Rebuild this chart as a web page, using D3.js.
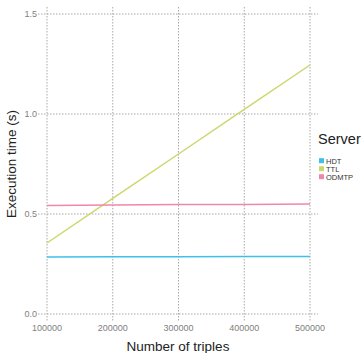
<!DOCTYPE html>
<html><head><meta charset="utf-8">
<script src="https://cdn.jsdelivr.net/npm/d3@7"></script>
<style>body{margin:0;background:#fff}svg{display:block}</style>
</head><body>
<script>
const triples = [100000, 200000, 300000, 400000, 500000];
const hdt   = [0.285, 0.286, 0.286, 0.287, 0.288];
const ttl   = [0.355, 0.578, 0.800, 1.023, 1.245];
const odmtp = [0.543, 0.545, 0.547, 0.548, 0.550];
const seriesNames = ["HDT", "TTL", "ODMTP"];
const seriesColors = ["#3fc0e8", "#cdd76a", "#f086ae"];
const xTicks = [100000, 200000, 300000, 400000, 500000];
const yTicks = [0.0, 0.5, 1.0, 1.5];

const W = 361, H = 353;
const svg = d3.select("body").append("svg").attr("width", W).attr("height", H);
const x = d3.scaleLinear().domain([100000, 500000]).range([47, 310]);
const y = d3.scaleLinear().domain([0, 1.5]).range([314, 14]);
const font = "'Liberation Sans', Helvetica, Arial, sans-serif";
const gridColor = "#a8a8a8";

// grid
const g = svg.append("g");
g.selectAll("line.h").data(yTicks).join("line")
  .attr("x1", 38).attr("x2", 318)
  .attr("y1", d => y(d)).attr("y2", d => y(d))
  .attr("stroke", gridColor).attr("stroke-width", 1).attr("stroke-dasharray", "1.5,1.5");
g.selectAll("line.v").data(xTicks).join("line")
  .attr("y1", 7).attr("y2", 322)
  .attr("x1", d => x(d)).attr("x2", d => x(d))
  .attr("stroke", gridColor).attr("stroke-width", 1).attr("stroke-dasharray", "1.5,1.5");

// tick labels
svg.selectAll("text.yt").data(yTicks).join("text")
  .attr("x", 37).attr("y", d => y(d) + 3.3).attr("text-anchor", "end")
  .attr("font-family", font).attr("font-size", 9).attr("fill", "#808080")
  .text(d => d3.format(".1f")(d));
svg.selectAll("text.xt").data(xTicks).join("text")
  .attr("x", d => x(d)).attr("y", 331).attr("text-anchor", "middle")
  .attr("font-family", font).attr("font-size", 9).attr("fill", "#808080")
  .text(d => d);

// lines
const allSeries = [hdt, ttl, odmtp];
const line = d3.line().x((d, i) => x(triples[i])).y(d => y(d));
allSeries.forEach((s, k) => {
  svg.append("path").datum(s).attr("d", line)
    .attr("fill", "none").attr("stroke", seriesColors[k]).attr("stroke-width", 1.5);
});

// axis titles
svg.append("text").attr("x", 178).attr("y", 351).attr("text-anchor", "middle")
  .attr("font-family", font).attr("font-size", 13.5).attr("fill", "#222")
  .text("Number of triples");
svg.append("text").attr("transform", "translate(16,164) rotate(-90)").attr("text-anchor", "middle")
  .attr("font-family", font).attr("font-size", 13.5).attr("fill", "#222")
  .text("Execution time (s)");

// legend
svg.append("text").attr("x", 318).attr("y", 144)
  .attr("font-family", font).attr("font-size", 14.5).attr("fill", "#222").text("Server");
const lg = svg.selectAll("g.lg").data(seriesNames).join("g")
  .attr("transform", (d, i) => `translate(319,${160.7 + i * 8})`);
lg.append("rect").attr("x", 0).attr("y", -2.5).attr("width", 5).attr("height", 5)
  .attr("fill", (d, i) => seriesColors[i]);
lg.append("text").attr("x", 7).attr("y", 2.8)
  .attr("font-family", font).attr("font-size", 7.5).attr("fill", "#333").text(d => d);
</script>
</body></html>
